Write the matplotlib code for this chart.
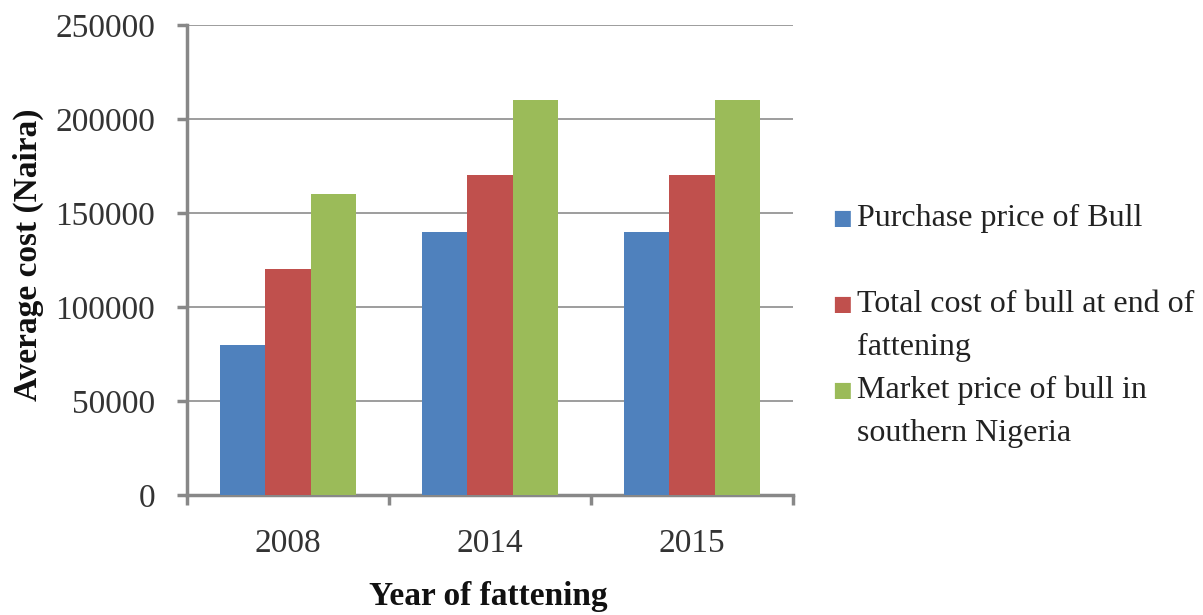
import numpy as np
import matplotlib
matplotlib.use('Agg')
import matplotlib.pyplot as plt

plt.rcParams['font.family'] = ['Liberation Serif', 'DejaVu Serif']

years = ['2008', '2014', '2015']
purchase = [80000, 140000, 140000]
total_cost = [120000, 170000, 170000]
market = [160000, 210000, 210000]
series = [purchase, total_cost, market]
labels = ['Purchase price of Bull',
          'Total cost of bull at end of\nfattening',
          'Market price of bull in\nsouthern Nigeria']
colors = ['#4F81BD', '#C0504D', '#9BBB59']

W, H = 1203, 615
fig = plt.figure(figsize=(W / 100, H / 100), dpi=100)
ax = fig.add_axes([187 / W, 1 - 495 / H, 606 / W, 470 / H])

x = np.arange(len(years))
w = 0.223
for i, vals in enumerate(series):
    ax.bar(x + (i - 1) * w, vals, width=w, color=colors[i], zorder=3)

ax.set_xlim(-0.5, len(years) - 0.5)
ax.set_ylim(0, 250000)
ax.set_yticks(np.arange(0, 250001, 50000))
ax.yaxis.grid(True, color='#8c8c8c', linewidth=1.2, zorder=0)

ax.set_xticks(x)
ax.set_xticklabels(years)
ax.set_xticks(np.arange(-0.5, len(years)), minor=True)
ax.tick_params(axis='x', which='major', length=0, pad=24, labelsize=24, labelcolor='#333333')
ax.tick_params(axis='x', which='minor', length=7, width=2.5, color='#888888', direction='out')
ax.tick_params(axis='y', length=7, width=2.5, color='#888888', labelsize=24,
               labelcolor='#333333', pad=16)

for s in ['top', 'right']:
    ax.spines[s].set_visible(False)
for s in ['left', 'bottom']:
    ax.spines[s].set_color('#888888')
    ax.spines[s].set_linewidth(2.5)

fig.text(28 / W, 1 - 255 / H, 'Average cost (Naira)', rotation=90, fontsize=24,
         fontweight='bold', ha='center', va='center', color='#111111')
fig.text(488 / W, 1 - 596 / H, 'Year of fattening', fontsize=24,
         fontweight='bold', ha='center', va='center', color='#111111')

# legend drawn by hand so the swatch sits at the first line of each entry
leg_y = [218, 304, 390]
for lab, col, yy in zip(labels, colors, leg_y):
    fig.text(842 / W, 1 - yy / H, '■', color=col, fontsize=15, va='center', ha='center',
             family=['DejaVu Sans'])
    for j, line in enumerate(lab.split('\n')):
        fig.text(857 / W, 1 - (yy + j * 43) / H, line, fontsize=23, va='center', ha='left',
                 color='#222222')

fig.savefig('out.png', dpi=100)
